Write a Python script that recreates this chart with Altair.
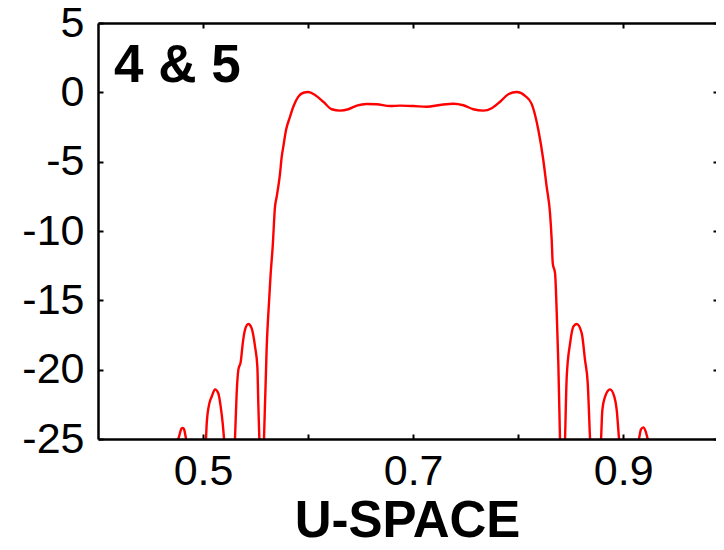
import altair as alt
import pandas as pd

# ---- data (u-space, dB) ----
left_u = [0.400, 0.4764, 0.4797, 0.4808, 0.4819, 0.4838, 0.4930,
          0.5028, 0.5035, 0.5060, 0.5082, 0.5114, 0.5145, 0.5168, 0.5187, 0.5200, 0.5250,
          0.5304, 0.5320, 0.5336, 0.5359, 0.5378, 0.5399, 0.5431, 0.5463, 0.5495, 0.5517, 0.5526, 0.5536, 0.5558]
left_db = [-32, -25, -24.23, -24.2, -24.30, -25, -32,
           -25, -23.87, -22.43, -21.95, -21.42, -21.70, -22.67, -23.87, -25, -32,
           -25, -21.70, -20.02, -19.42, -18.10, -17.14, -16.71, -17.02, -18.34, -19.79, -22.43, -25, -32]

main_u = [0.5580, 0.5606, 0.5631, 0.5644, 0.5663, 0.5685, 0.5701, 0.5733, 0.5749, 0.5764,
          0.5790, 0.5828, 0.5859, 0.5907, 0.5955, 0.6002, 0.6066, 0.6145, 0.6225, 0.6304,
          0.6383, 0.6463, 0.6558, 0.6653, 0.6780, 0.6875, 0.7002, 0.7129, 0.7256, 0.7383,
          0.7478, 0.7573, 0.7668, 0.7748, 0.7827, 0.7906, 0.7986, 0.8065, 0.8129, 0.8192,
          0.8239, 0.8271, 0.8303, 0.8319, 0.8329, 0.8351, 0.8367, 0.8382, 0.8398, 0.8422]
main_db = [-25, -18.34, -14.74, -13.05, -11.13, -8.25, -7.53, -5.84, -4.64, -3.92,
           -2.72, -1.76, -1.04, -0.31, -0.03, 0.02, -0.19, -0.68, -1.22, -1.32,
           -1.22, -0.96, -0.84, -0.86, -0.99, -0.96, -0.99, -1.04, -0.91, -0.82,
           -0.93, -1.22, -1.32, -1.15, -0.68, -0.14, 0.02, -0.25, -0.85, -2.72,
           -4.88, -6.80, -8.72, -10.65, -12.33, -13.05, -15.93, -19.54, -25, -32]

right_u = [0.8446, 0.8462, 0.8494, 0.8525, 0.8557, 0.8605, 0.8636, 0.8662, 0.8684, 0.8737,
           0.8789, 0.8801, 0.8827, 0.8874, 0.8915, 0.8938, 0.8960, 0.9055,
           0.9150, 0.9169, 0.9191, 0.9214, 0.9233, 0.988]
right_db = [-25, -20.51, -18.10, -16.90, -16.71, -17.38, -19.30, -20.98, -25, -32,
            -25, -22.91, -21.95, -21.42, -21.95, -22.91, -25, -32,
            -25, -24.30, -24.16, -24.47, -25, -32]

x_label_values = [0.5, 0.7, 0.9]
x_tick_values = [0.5, 0.6, 0.7, 0.8, 0.9]
y_tick_values = [-25, -20, -15, -10, -5, 0, 5]
panel_label = "4 & 5"
x_title = "U-SPACE"

df = pd.DataFrame({"u": left_u + main_u + right_u, "db": left_db + main_db + right_db})

FONT = "Liberation Sans"
W, H = 618, 416
xscale = alt.Scale(domain=[0.4, 0.9883], nice=False, zero=False)
yscale = alt.Scale(domain=[-25, 5], nice=False, zero=False)

line = alt.Chart(df).mark_line(color="#ff0000", strokeWidth=2.4, clip=True,
                               interpolate="monotone").encode(
    x=alt.X("u:Q", scale=xscale, axis=alt.Axis(
        orient="bottom", values=x_label_values, ticks=False, grid=False,
        domain=True, domainColor="black", domainWidth=2.5,
        labelFont=FONT, labelFontSize=43, labelColor="black", labelPadding=11,
        labelExpr="'' + datum.value", labelFlush=False, labelOverlap=False,
        title=x_title, titleFont=FONT, titleFontSize=51, titleFontWeight="bold",
        titleColor="black", titlePadding=3, zindex=1)),
    y=alt.Y("db:Q", scale=yscale, axis=alt.Axis(
        orient="left", values=y_tick_values, ticks=False, grid=False,
        domain=True, domainColor="black", domainWidth=2.5,
        labelFont=FONT, labelFontSize=43, labelColor="black", labelPadding=14,
        labelExpr="'' + datum.value", labelFlush=False, labelOverlap=False,
        title=None, zindex=1)),
)

top_edge = alt.Chart(df).mark_line(strokeOpacity=0).encode(
    x=alt.X("u:Q", scale=xscale, axis=alt.Axis(
        orient="top", labels=False, ticks=False, grid=False,
        domainColor="black", domainWidth=2.5, title=None, zindex=1)),
    y=alt.Y("db:Q", scale=yscale, axis=None),
)

tick_style = dict(labels=False, domain=False, grid=False, title=None,
                  ticks=True, tickColor="black", tickWidth=2, zindex=1)

ticks_a = alt.Chart(df).mark_line(strokeOpacity=0).encode(
    x=alt.X("u:Q", scale=xscale, axis=alt.Axis(
        orient="bottom", offset=-H, values=x_tick_values, tickSize=5, **tick_style)),
    y=alt.Y("db:Q", scale=yscale, axis=alt.Axis(
        orient="left", offset=-W, values=y_tick_values, tickSize=3, **tick_style)),
)

ticks_b = alt.Chart(df).mark_line(strokeOpacity=0).encode(
    x=alt.X("u:Q", scale=xscale, axis=alt.Axis(
        orient="top", offset=-H, values=x_tick_values, tickSize=5, **tick_style)),
    y=alt.Y("db:Q", scale=yscale, axis=alt.Axis(
        orient="right", offset=-W, values=y_tick_values, tickSize=5, **tick_style)),
)

label_df = pd.DataFrame({"label": [panel_label]})
label = alt.Chart(label_df).mark_text(
    align="left", baseline="alphabetic", dx=16, dy=59,
    font=FONT, fontSize=53, fontWeight="bold", color="black",
).encode(
    x=alt.datum(0.4, scale=xscale, axis=None),
    y=alt.datum(5, scale=yscale, axis=None),
    text="label:N",
)

chart = alt.layer(line, top_edge, ticks_a, ticks_b, label).resolve_axis(
    x="independent", y="independent"
).properties(
    width=W, height=H,
    autosize=alt.AutoSizeParams(type="none"),
    padding={"left": 90, "top": 15, "right": 0, "bottom": 102},
    background="white",
).configure_view(stroke=None)

chart.save("out.html", embed_options={"renderer": "svg", "actions": False})
